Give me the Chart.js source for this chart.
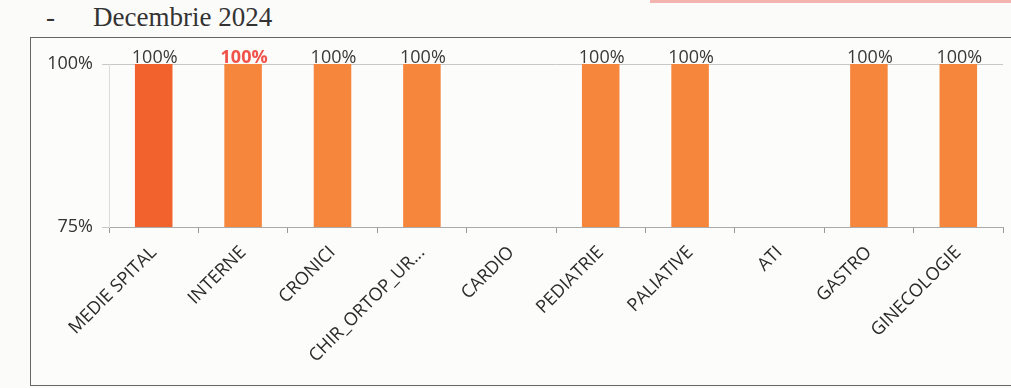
<!DOCTYPE html>
<html>
<head>
<meta charset="UTF-8">
<title>Decembrie 2024</title>
<script src="https://cdn.jsdelivr.net/npm/chart.js"></script>
<style>
    body {
        margin: 0;
        width: 1011px;
        height: 388px;
        background: #fbfbfa;
        position: relative;
        overflow: hidden;
    }
    .topline {
        position: absolute;
        left: 650px;
        top: 0;
        width: 361px;
        height: 3px;
        background: #f3b3ae;
    }
    .title {
        position: absolute;
        left: 46px;
        top: 2px;
        font-family: "Liberation Serif", "DejaVu Serif", serif;
        font-size: 27px;
        color: #333;
    }
    .title span { margin-left: 38px; }
    .frame {
        position: absolute;
        left: 30px;
        top: 37px;
        width: 990px;
        height: 347px;
        border: 1.5px solid #666;
        background: #fcfcfb;
    }
    #chart { display: block; }
</style>
</head>
<body>
<div class="topline"></div>
<div class="title">-<span>Decembrie 2024</span></div>
<div class="frame">
    <canvas id="chart" width="981" height="347"></canvas>
</div>
<script>
    // date
    const sectii = ['MEDIE SPITAL', 'INTERNE', 'CRONICI', 'CHIR_ORTOP_UR...', 'CARDIO',
        'PEDIATRIE', 'PALIATIVE', 'ATI', 'GASTRO', 'GINECOLOGIE'];
    const valori = [1, 1, 1, 1, null, 1, 1, null, 1, 1];
    const yTicks = [0.75, 1];

    const culori = valori.map((v, i) => i === 0 ? '#f2622c' : '#f5863c');
    const culoriEticheta = valori.map((v, i) => i === 1 ? '#f0534a' : '#3a3a3a');
    const font = '"Open Sans", "Noto Sans", sans-serif';

    // etichete valori deasupra barelor
    const eticheteBare = {
        id: 'eticheteBare',
        afterDatasetsDraw(chart) {
            const c = chart.ctx;
            const meta = chart.getDatasetMeta(0);
            c.save();
            c.textAlign = 'center';
            c.textBaseline = 'bottom';
            meta.data.forEach((bar, i) => {
                const v = valori[i];
                if (v === null) return;
                c.font = (i === 1 ? 'bold ' : '') + '18px ' + font;
                c.fillStyle = culoriEticheta[i];
                c.fillText(Math.round(v * 100) + '%', bar.x + 1, bar.y + 3);
            });
            c.restore();
        }
    };

    const ctx = document.getElementById('chart').getContext('2d');
    new Chart(ctx, {
        type: 'bar',
        data: {
            labels: sectii,
            datasets: [{
                data: valori,
                backgroundColor: culori,
                barPercentage: 0.42,
                categoryPercentage: 1
            }]
        },
        options: {
            responsive: false,
            animation: false,
            layout: { padding: { top: 26, right: 9, left: 0, bottom: 0 } },
            plugins: {
                legend: { display: false },
                tooltip: { enabled: false }
            },
            scales: {
                x: {
                    grid: {
                        offset: true,
                        drawOnChartArea: false,
                        tickLength: 6,
                        color: '#999'
                    },
                    border: { color: '#aaa' },
                    ticks: {
                        minRotation: 45,
                        maxRotation: 45,
                        autoSkip: false,
                        color: '#2b2b2b',
                        font: { family: font, size: 18 },
                        padding: 9
                    },
                    afterFit(scale) { scale.height = 158; }
                },
                y: {
                    min: 0.75,
                    max: 1,
                    afterBuildTicks(scale) {
                        scale.ticks = yTicks.map(v => ({ value: v }));
                    },
                    ticks: {
                        color: '#333',
                        font: { family: font, size: 18 },
                        padding: 9,
                        callback: v => Math.round(v * 100) + '%'
                    },
                    grid: { color: '#c8c8c8', tickLength: 7 },
                    border: { color: '#dcdcdc' },
                    afterFit(scale) { scale.width = 78; }
                }
            }
        },
        plugins: [eticheteBare]
    });
</script>
</body>
</html>
